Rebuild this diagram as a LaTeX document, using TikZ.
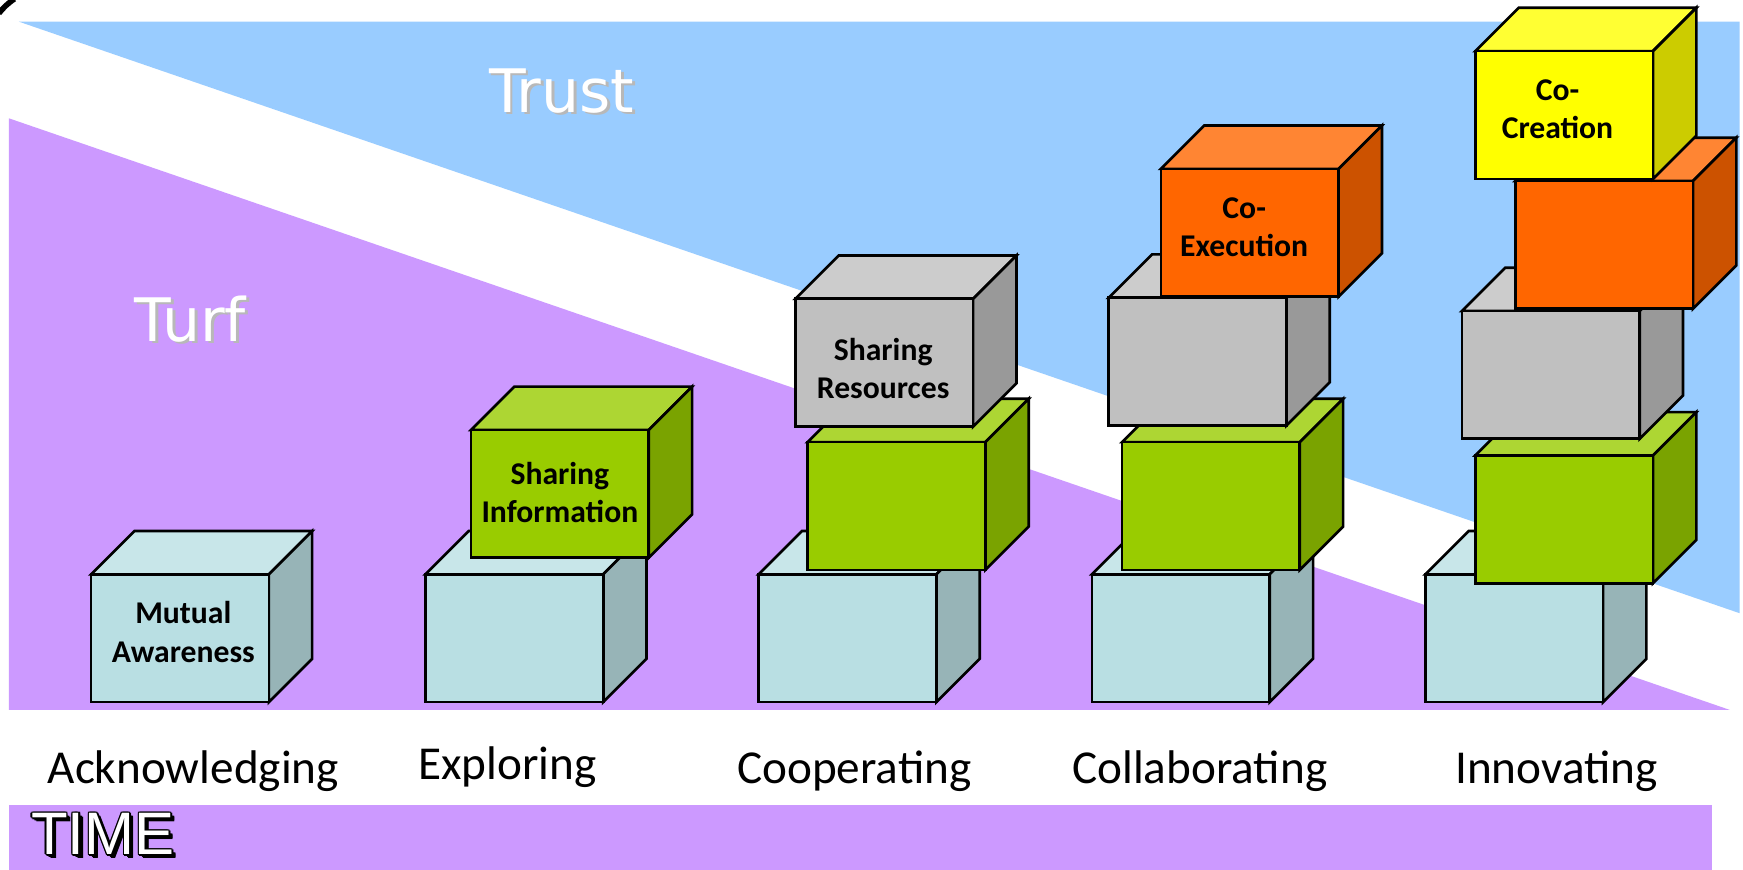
\documentclass[tikz,border=0pt]{standalone}
\usepackage{fontspec}
\setmainfont{Carlito}
\newfontfamily\dvfont{DejaVu Sans}
\newfontfamily\lsfont{Liberation Sans}
\definecolor{bgblue}{HTML}{99CCFF}
\definecolor{bgpurple}{HTML}{CC99FF}
\definecolor{cyF}{HTML}{B9DFE3}
\definecolor{cyT}{HTML}{C8E6E9}
\definecolor{cyS}{HTML}{97B4B7}
\definecolor{grF}{HTML}{99CC00}
\definecolor{grT}{HTML}{ADD633}
\definecolor{grS}{HTML}{7AA300}
\definecolor{gyF}{HTML}{C0C0C0}
\definecolor{gyT}{HTML}{CCCCCC}
\definecolor{gyS}{HTML}{999999}
\definecolor{orF}{HTML}{FF6600}
\definecolor{orT}{HTML}{FF8533}
\definecolor{orS}{HTML}{CC5200}
\definecolor{ylF}{HTML}{FFFF00}
\definecolor{ylT}{HTML}{FFFF33}
\definecolor{ylS}{HTML}{CCCC00}
\tikzset{
  outl/.style={draw=black, line width=2.4pt, line join=miter},
  cubelabel/.style={font=\bfseries\fontsize{28.5}{34.5}\selectfont, align=center, inner sep=0pt, anchor=base},
  stagelabel/.style={font=\fontsize{42.5}{50}\selectfont, inner sep=0pt, anchor=base},
  bigword/.style={font=\dvfont\fontsize{54}{60}\selectfont, inner sep=0pt, anchor=base west},
  timeword/.style={font=\lsfont\fontsize{54}{60}\selectfont, inner sep=0pt, anchor=base west},
}
\newcommand\blockcube[3]{%
  \filldraw[outl, fill=#3T] (#1,#2) -- ++(39,-39) -- ++(160,0) -- ++(-39,39) -- cycle;
  \filldraw[outl, fill=#3S] (#1+160,#2) -- ++(39,-39) -- ++(0,115) -- ++(-39,39) -- cycle;
  \filldraw[outl, fill=#3F] (#1,#2) rectangle ++(160,115);
}
\begin{document}
\begin{tikzpicture}[x=1pt,y=-1pt]
\useasboundingbox (0,0) rectangle (1569,783);
\fill[white] (0,0) rectangle (1569,783);
% background bands
\fill[bgblue] (17,19.5) -- (1566,19.5) -- (1566,552) -- cycle;
\fill[bgpurple] (8,106.5) -- (1557,639) -- (8,639) -- cycle;
\fill[bgpurple] (8.5,724.5) rectangle (1541,783);
\draw[line width=5pt] (-1,12) .. controls (3,7) and (7,3) .. (13,-1);
% Trust / Turf
\node[bigword, text=black!28] (trustsh) at (442.5,103.5) {Trust};
\node[bigword, text=white] (trust) at (440,101) {Trust};
\node[bigword, text=black!28] (turfsh) at (123.5,309.5) {Turf};
\node[bigword, text=white] (turf) at (121,307) {Turf};
% TIME: black outline and shadow under white letters
\foreach \dx/\dy [count=\k] in {1.4/0,-1.4/0,0/1.4,0/-1.4,1/1,-1/1,1/-1,-1/-1,2.2/2.2,3.2/2.8,3.8/3.5}
  \node[timeword, text=black] (timesh\k) at (28+\dx,769.5+\dy) {TIME};
\node[timeword, text=white] (time) at (28,769.5) {TIME};
% column 1
\blockcube{82}{517}{cy}
% column 2
\blockcube{383}{517}{cy}
\blockcube{424}{387}{gr}
% column 3
\blockcube{683}{517}{cy}
\blockcube{727}{398}{gr}
\blockcube{716}{269}{gy}
% column 4
\blockcube{983}{517}{cy}
\blockcube{1010}{398}{gr}
\blockcube{998}{268}{gy}
\blockcube{1045}{152}{or}
% column 5
\blockcube{1283}{517}{cy}
\blockcube{1328}{410}{gr}
\blockcube{1316}{280}{gy}
\blockcube{1364}{163}{or}
\blockcube{1328}{46}{yl}
% cube labels (anchor = baseline of the last line)
\node[cubelabel] (ma) at (165,596) {Mutual\\Awareness};
\node[cubelabel] (si) at (504,470.5) {Sharing\\Information};
\node[cubelabel] (sr) at (795,359) {Sharing\\Resources};
\node[cubelabel] (ce) at (1120,231) {Co-\\Execution};
\node[cubelabel] (cc) at (1402,125) {Co-\\Creation};
% stage labels
\node[stagelabel] (s1) at (174,705) {Acknowledging};
\node[stagelabel] (s2) at (457,702) {Exploring};
\node[stagelabel] (s3) at (769,705) {Cooperating};
\node[stagelabel] (s4) at (1080,705) {Collaborating};
\node[stagelabel] (s5) at (1401,705) {Innovating};
\end{tikzpicture}
\end{document}
